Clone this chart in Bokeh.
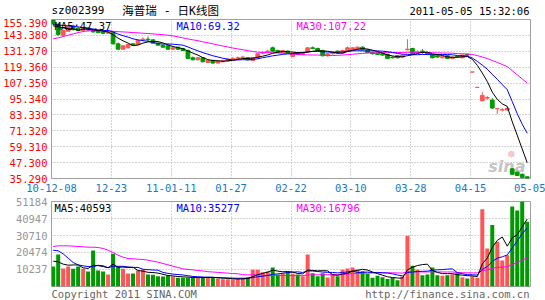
import pandas as pd
from bokeh.plotting import figure
from bokeh.models import (Range1d, FixedTicker, PrintfTickFormatter,
                          CustomJSTickFormatter, ColumnDataSource)
from bokeh.core.properties import value
from bokeh.layouts import column
from bokeh.embed import file_html
from bokeh.resources import INLINE

# ---------------- data ----------------
date_labels = ["10-12-08", "12-23", "11-01-11", "01-27", "02-22",
               "03-10", "03-28", "04-15", "05-05"]
price_ticks = [35.290, 47.300, 59.310, 71.320, 83.330, 95.340,
               107.350, 119.360, 131.370, 143.380, 155.390]
volume_ticks = [10237, 20474, 30710, 40947, 51184]

opens = [155.0, 151.5, 143.5, 146.5, 150.5, 148.5, 147.0, 149.0, 147.5, 146.5,
         146.0, 145.0, 145.5, 137.0, 133.0, 134.0, 137.0, 136.5, 140.0, 140.5,
         140.0, 137.5, 136.0, 135.5, 133.0, 134.5, 133.5, 132.0, 126.5, 125.0,
         126.5, 123.0, 124.5, 122.5, 123.5, 124.0, 125.5, 126.0, 126.5, 126.5,
         124.5, 126.5, 130.0, 131.0, 134.0, 132.0, 130.5, 131.5, 127.5, 130.0,
         129.0, 131.0, 134.0, 133.5, 132.0, 128.0, 129.5, 131.5, 130.0, 131.5,
         132.5, 133.0, 134.5, 132.5, 130.5, 130.0, 129.5, 129.0, 127.0, 128.0,
         127.0, 132.5, 133.5, 130.5, 131.5, 130.5, 128.5, 128.0, 126.5, 128.0,
         126.0, 127.5, 126.5, 129.0, 115.7, 104.1, 94.0, 96.0, 94.5, 88.0,
         87.0, 87.0, 42.6, 40.1, 38.5, 36.6]
highs = [155.4, 152.5, 148.0, 151.0, 151.5, 150.0, 150.0, 149.5, 148.5, 147.5,
         146.5, 147.0, 146.0, 138.0, 136.0, 137.0, 137.5, 140.0, 142.0, 142.5,
         140.5, 138.0, 136.5, 136.0, 135.0, 135.0, 134.0, 132.5, 127.5, 127.0,
         127.0, 125.0, 125.0, 124.5, 125.0, 126.0, 127.0, 127.5, 128.0, 127.0,
         127.0, 130.0, 131.5, 132.5, 135.0, 132.5, 132.5, 132.0, 130.5, 130.5,
         131.0, 134.5, 135.0, 134.0, 132.5, 130.0, 131.0, 132.0, 132.5, 135.0,
         134.5, 135.0, 135.0, 133.0, 131.0, 130.5, 130.0, 129.5, 127.5, 128.5,
         129.0, 140.5, 134.0, 132.0, 133.0, 131.0, 129.0, 128.5, 128.0, 128.5,
         127.5, 128.0, 129.0, 129.5, 115.7, 104.1, 100.5, 97.5, 96.0, 88.3,
         88.5, 88.5, 43.0, 40.5, 39.0, 37.0]
lows = [151.0, 143.0, 142.5, 146.0, 147.0, 146.5, 146.5, 146.5, 145.5, 145.0,
        144.5, 144.5, 136.5, 132.5, 132.5, 133.5, 135.5, 136.0, 139.0, 139.0,
        137.0, 135.5, 134.0, 132.5, 132.5, 132.5, 131.5, 125.5, 124.5, 124.5,
        123.0, 122.5, 122.0, 122.0, 123.0, 123.5, 125.0, 125.0, 125.5, 124.5,
        124.0, 126.0, 129.0, 130.0, 131.0, 130.0, 130.0, 129.5, 127.0, 128.5,
        128.5, 130.5, 133.0, 131.5, 127.5, 127.5, 129.0, 129.5, 129.5, 131.0,
        132.0, 132.5, 132.0, 130.0, 129.0, 128.5, 128.0, 125.5, 126.0, 126.0,
        126.5, 132.0, 129.0, 130.0, 129.5, 128.5, 126.0, 126.5, 126.0, 125.5,
        125.5, 126.5, 126.0, 128.0, 115.7, 104.1, 93.7, 95.0, 88.0, 84.0,
        86.0, 86.5, 38.0, 37.3, 35.8, 35.3]
closes = [152.0, 144.0, 147.0, 150.0, 148.0, 147.0, 149.0, 147.5, 146.0, 145.5,
          145.0, 146.0, 137.0, 133.0, 135.5, 136.5, 136.0, 139.5, 140.5, 140.0,
          137.5, 136.0, 134.5, 133.0, 134.0, 133.0, 132.0, 126.0, 125.0, 126.5,
          123.5, 124.5, 122.5, 124.0, 124.5, 125.5, 126.0, 126.5, 127.0, 125.0,
          126.5, 129.5, 130.5, 131.5, 131.5, 130.5, 132.0, 130.0, 130.0, 129.0,
          130.5, 134.0, 133.5, 132.0, 128.0, 129.5, 130.5, 130.0, 132.0, 134.0,
          134.0, 134.5, 132.5, 130.5, 129.5, 129.0, 128.5, 126.0, 126.5, 126.5,
          128.5, 133.0, 129.5, 131.0, 131.0, 129.0, 126.5, 127.0, 127.5, 126.0,
          127.0, 127.0, 128.5, 128.5, 115.7, 104.1, 98.0, 96.5, 88.5, 88.2,
          87.3, 88.4, 38.5, 37.6, 36.0, 35.5]
volumes = [12040, 19270, 10840, 12040, 10640, 12040, 10640, 9030, 21680, 9630,
           9030, 7230, 19670, 12040, 10640, 7830, 7830, 9630, 10240, 7230,
           7020, 6220, 6020, 6620, 6020, 5220, 5220, 5220, 5620, 5620,
           5220, 5620, 5220, 4820, 4420, 4420, 4220, 4620, 5220, 5620,
           10040, 10040, 8630, 9030, 11440, 7230, 8030, 9030, 7630, 7230,
           6220, 19270, 8030, 6220, 8030, 5420, 7630, 6220, 10040, 10840,
           11440, 10240, 9230, 7630, 5220, 6420, 5500, 4500, 5300, 3800,
           6000, 30500, 12500, 10200, 6800, 7200, 11500, 6800, 6400, 6800,
           7400, 8000, 5600, 4800, 6200, 5200, 46500, 22880, 37000, 27000,
           15650, 18870, 48170, 45800, 51180, 38950]

# moving-average values at the left edge (earlier days are not on the chart)
price_ma5_head = [150.6, 149.8, 149.0, 148.5]
price_ma10_head = [151.5, 151.2, 150.9, 150.6, 150.2, 149.8, 149.3, 148.8, 148.2]
price_ma30_head = [140.8, 141.5, 142.5, 143.5, 144.5, 145.5, 146.3, 146.8, 147.0,
                   147.0, 147.0, 146.8, 146.5, 146.2, 146.0, 145.8, 145.5, 145.3,
                   145.0, 144.8, 144.5, 144.2, 143.9, 143.5, 143.0, 142.3, 141.5,
                   140.7, 140.0]
vol_ma5_head = [15250, 14850, 13450, 12840]
vol_ma10_head = [21880, 21480, 19670, 17060, 14450, 13050, 12440, 12040, 11840]
vol_ma30_head = [24080, 24490, 24490, 24490, 24290, 24080, 23880, 23680, 23680,
                 23480, 22880, 21880, 20470, 18870, 17660, 16860, 16660, 16460,
                 16260, 15860, 15250, 14650, 13850, 13050, 12240, 11440, 10640,
                 10240, 10040]

stock_code = "sz002399"
chart_title = "海普瑞 - 日K线图"
timestamp = "2011-05-05 15:32:06"
price_ma_texts = ["MA5:47.37", "MA10:69.32", "MA30:107.22"]
volume_ma_texts = ["MA5:40593", "MA10:35277", "MA30:16796"]
footer_left = "Copyright 2011 SINA.COM"
footer_right = "http://finance.sina.com.cn"

# ---------------- helpers ----------------
def moving_average(values, n, head):
    s = pd.Series(values, dtype=float).rolling(n).mean()
    s.iloc[:len(head)] = head
    return s.to_numpy()

RED = "#FF5555"
GREEN = "#009A00"
GRID = "#A8A8A8"
MONO = "DejaVu Sans Mono"
MA_COLORS = ["black", "#0000FF", "#FF00FF"]
MA_OFFSETS = [3, 125, 245]          # px from the left edge of the plot frame

idx = list(range(len(closes)))
colors = [RED if c >= o else GREEN for o, c in zip(opens, closes)]
src = ColumnDataSource(dict(
    x=idx, open=opens, high=highs, low=lows, close=closes, vol=volumes,
    top=[max(o, c) for o, c in zip(opens, closes)],
    bottom=[min(o, c) for o, c in zip(opens, closes)],
    color=colors,
    ma5=moving_average(closes, 5, price_ma5_head),
    ma10=moving_average(closes, 10, price_ma10_head),
    ma30=moving_average(closes, 30, price_ma30_head),
    vma5=moving_average(volumes, 5, vol_ma5_head),
    vma10=moving_average(volumes, 10, vol_ma10_head),
    vma30=moving_average(volumes, 30, vol_ma30_head),
))

X0 = -0.34
SLOTS = 96
STEP = 12
x_range = Range1d(X0, X0 + SLOTS)
x_ticks = [X0 + STEP * k for k in range(len(date_labels))]
W = 545
LEFT = 50
RIGHT = 15
FRAME_W = W - LEFT - RIGHT

def style(fig):
    fig.outline_line_color = "#A0A0A0"
    fig.background_fill_color = "white"
    fig.border_fill_color = "white"
    for g in (fig.xgrid, fig.ygrid):
        g.grid_line_color = GRID
        g.grid_line_dash = "1 2"
        g.grid_line_width = 1
    fig.xgrid.ticker = FixedTicker(ticks=x_ticks)

def style_axis(ax, color, standoff):
    ax.axis_line_color = None
    ax.major_tick_line_color = None
    ax.minor_tick_line_color = None
    ax.major_tick_out = 0
    ax.major_tick_in = 0
    ax.minor_tick_out = 0
    ax.minor_tick_in = 0
    ax.major_label_text_font = MONO
    ax.major_label_text_font_size = "10.5px"
    ax.major_label_text_color = color
    ax.major_label_standoff = standoff

def strip(height):
    """A text-only strip with the same frame columns as the panels;
    its ranges are pixel positions (x from frame left, y downwards)."""
    f = figure(width=W, height=height, output_backend="svg", toolbar_location=None,
               x_range=Range1d(0, FRAME_W), y_range=Range1d(height, 0),
               x_axis_location=None, y_axis_location=None,
               min_border_left=LEFT, min_border_right=RIGHT,
               min_border_top=0, min_border_bottom=0)
    f.outline_line_color = None
    f.xgrid.visible = False
    f.ygrid.visible = False
    f.background_fill_color = "white"
    f.border_fill_color = "white"
    return f

def add_text(fig, x, y, text, color="black", size="10.5px", align="left",
             font=MONO, style_="normal", xo=0, yo=0, alpha=1.0):
    fig.text(x=[x], y=[y], text=[text], x_offset=xo, y_offset=yo,
             text_color=color, text_font=value(font), text_font_size=size,
             text_align=align, text_baseline="middle",
             text_font_style=style_, text_alpha=alpha)

# ---------------- header ----------------
HEADER_H = 18
head = strip(HEADER_H)
add_text(head, 0, 10, stock_code, size="11px")
add_text(head, 71, 10, chart_title, size="11.5px",
         font="DejaVu Sans Mono, Noto Sans CJK SC")
add_text(head, FRAME_W - 1, 10, timestamp, align="right")

# ---------------- price panel ----------------
p = figure(width=W, height=178, output_backend="svg", toolbar_location=None,
           x_range=x_range, y_range=Range1d(price_ticks[0], price_ticks[-1]),
           min_border_left=LEFT, min_border_right=RIGHT, min_border_top=1,
           min_border_bottom=18)
style(p)
p.xaxis.ticker = FixedTicker(ticks=x_ticks)
p.xaxis.formatter = CustomJSTickFormatter(
    args=dict(labels=date_labels, x0=X0, step=STEP),
    code="const k = Math.round((tick - x0) / step); return labels[k] || '';")
p.yaxis.ticker = FixedTicker(ticks=price_ticks)
p.yaxis.formatter = PrintfTickFormatter(format="%.3f")
style_axis(p.xaxis, "#1478C8", 5)
style_axis(p.yaxis, "#FF0000", 4)

add_text(p, X0 + SLOTS, price_ticks[0], "sina", color="#C4C4C4", size="16px",
         font="DejaVu Sans", style_="bold italic", align="right", xo=-5, yo=-12)
add_text(p, X0 + SLOTS, price_ticks[0], "●", color="#F6C8C8", size="11px",
         align="right", xo=-16, yo=-25)

p.segment(x0="x", y0="low", x1="x", y1="high", color="color", line_width=1, source=src)
p.vbar(x="x", width=0.75, top="top", bottom="bottom", fill_color="color",
       line_color="color", line_width=1, source=src)
p.line("x", "ma30", color="#FF00FF", line_width=1, source=src)
p.line("x", "ma10", color="#0000FF", line_width=1, source=src)
p.line("x", "ma5", color="black", line_width=1, source=src)

for txt, col, off in zip(price_ma_texts, MA_COLORS, MA_OFFSETS):
    add_text(p, X0, price_ticks[-1], txt, color=col, xo=off, yo=6)

# ---------------- volume panel ----------------
q = figure(width=W, height=91, output_backend="svg", toolbar_location=None,
           x_range=x_range, y_range=Range1d(0, volume_ticks[-1]),
           x_axis_location=None,
           min_border_left=LEFT, min_border_right=RIGHT, min_border_top=5,
           min_border_bottom=1)
style(q)
q.yaxis.ticker = FixedTicker(ticks=volume_ticks)
q.yaxis.formatter = PrintfTickFormatter(format="%d")
style_axis(q.yaxis, "#969696", 4)

q.vbar(x="x", width=0.8, top="vol", bottom=0, fill_color="color",
       line_color=None, source=src)
q.line("x", "vma30", color="#FF00FF", line_width=1, source=src)
q.line("x", "vma10", color="#0000FF", line_width=1, source=src)
q.line("x", "vma5", color="black", line_width=1, source=src)

for txt, col, off in zip(volume_ma_texts, MA_COLORS, MA_OFFSETS):
    add_text(q, X0, volume_ticks[-1], txt, color=col, xo=off, yo=6)

# ---------------- footer ----------------
FOOTER_H = 13
foot = strip(FOOTER_H)
add_text(foot, 0, 6, footer_left, color="#666666")
add_text(foot, FRAME_W - 1, 6, footer_right, color="#666666", align="right")

layout = column(head, p, q, foot, spacing=0)
open("out.html", "w").write(file_html(layout, INLINE))
